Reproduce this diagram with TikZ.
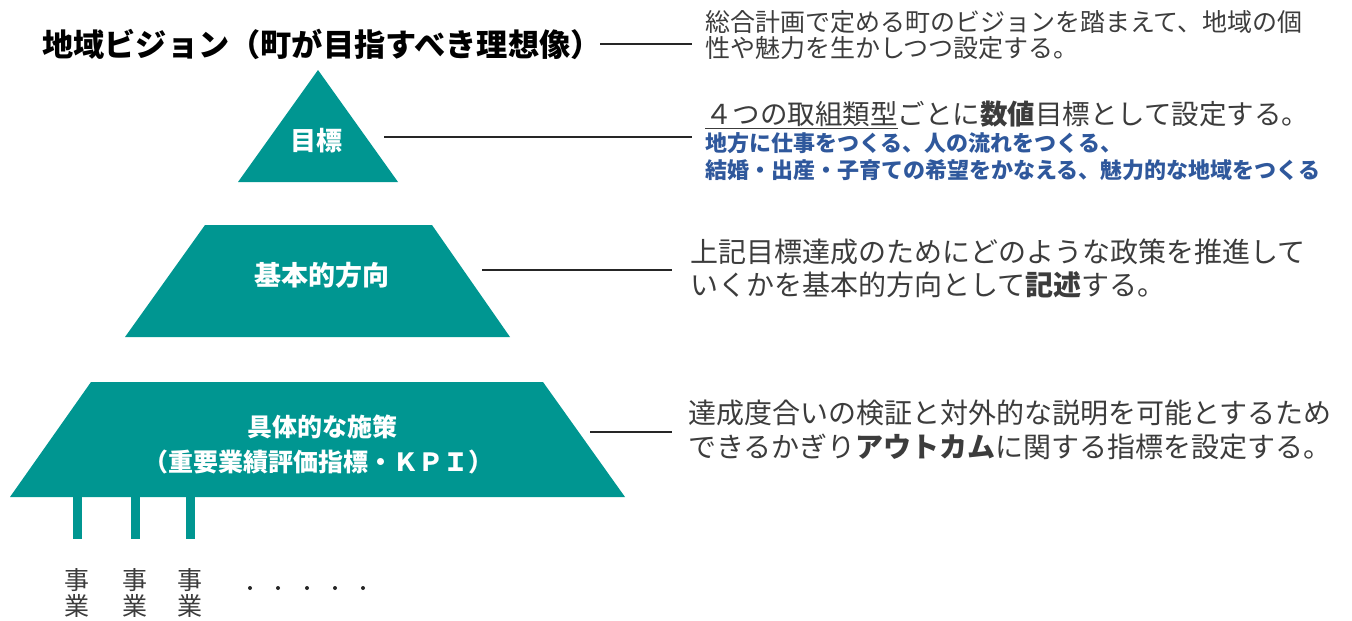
\documentclass[tikz,border=0pt]{standalone}
\usepackage{fontspec}
\setmainfont{Noto Sans CJK JP}
\definecolor{tealfill}{RGB}{0,150,145}
\definecolor{txtgray}{RGB}{60,60,60}
\definecolor{darkblue}{RGB}{47,88,156}
\tikzset{
  shapefill/.style={fill=tealfill, draw=none},
  inlabel/.style={text=white, inner sep=0, align=center},
  desc/.style={anchor=west, inner sep=0, text=txtgray},
  bluedesc/.style={anchor=west, inner sep=0, text=darkblue, font=\bfseries\fontsize{22}{26}\selectfont},
  leader/.style={draw=black!85, line width=1.1pt},
  legbar/.style={fill=tealfill, draw=none},
  jigyo/.style={inner sep=0, align=center, text=txtgray, font=\fontsize{25}{26.5}\selectfont},
  dotmark/.style={circle, fill=black!85, inner sep=0, minimum size=4pt},
}
\begin{document}
\begin{tikzpicture}[x=1pt,y=-1pt]
\useasboundingbox (0,0) rectangle (1352,621);

% title
\node[anchor=west, inner sep=0, font=\bfseries\fontsize{31.2}{36}\selectfont] (title) at (42,44) {地域ビジョン（町が目指すべき理想像）};
\coordinate (l0s) at (600,44);
\coordinate (l0e) at (692,44);
\draw[leader] (l0s) -- (l0e);

% right descriptions
\node[desc, font=\fontsize{25}{28}\selectfont] (t1a) at (705,22) {総合計画で定める町のビジョンを踏まえて、地域の個};
\node[desc, font=\fontsize{25}{28}\selectfont] (t1b) at (705,48) {性や魅力を生かしつつ設定する。};

\node[desc, font=\fontsize{27.5}{30}\selectfont] (t2) at (705,115) {\underline{４つの取組類型}ごとに{\bfseries 数値}目標として設定する。};
\node[bluedesc] (t2b) at (705,143) {地方に仕事をつくる、人の流れをつくる、};
\node[bluedesc] (t2c) at (705,170) {結婚・出産・子育ての希望をかなえる、魅力的な地域をつくる};

\node[desc, font=\fontsize{28}{32}\selectfont] (t3a) at (690,252) {上記目標達成のためにどのような政策を推進して};
\node[desc, font=\fontsize{28}{32}\selectfont] (t3b) at (690,285) {いくかを基本的方向として{\bfseries 記述}する。};

\node[desc, font=\fontsize{28}{32}\selectfont] (t4a) at (688,413) {達成度合いの検証と対外的な説明を可能とするため};
\node[desc, font=\fontsize{28}{32}\selectfont] (t4b) at (688,447) {できるかぎり{\bfseries アウトカム}に関する指標を設定する。};

% triangle
\fill[shapefill] (318,70) -- (398,182) -- (238,182) -- cycle;
\node[inlabel, font=\bfseries\fontsize{26}{30}\selectfont] (goal) at (316,141) {目標};
\coordinate (l1s) at (384,137);
\coordinate (l1e) at (692,137);
\draw[leader] (l1s) -- (l1e);

% trapezoid 2
\fill[shapefill] (205,225) -- (432,225) -- (510,337) -- (125,337) -- cycle;
\node[inlabel, font=\bfseries\fontsize{27}{30}\selectfont] (dir) at (322,275) {基本的方向};
\coordinate (l2s) at (482,270);
\coordinate (l2e) at (672,270);
\draw[leader] (l2s) -- (l2e);

% trapezoid 3
\fill[shapefill] (91,382) -- (543,382) -- (625,497) -- (10,497) -- cycle;
\node[inlabel, font=\bfseries\fontsize{25}{30}\selectfont] (mes1) at (322,427) {具体的な施策};
\node[inlabel, font=\bfseries\fontsize{25}{30}\selectfont] (mes2) at (318,462) {（重要業績評価指標・ＫＰＩ）};
\coordinate (l3s) at (590,432);
\coordinate (l3e) at (672,432);
\draw[leader] (l3s) -- (l3e);

% legs
\fill[legbar] (72.5,496) rectangle (81.5,539);
\fill[legbar] (130.5,496) rectangle (139.5,539);
\fill[legbar] (185.5,496) rectangle (194.5,539);

% projects
\node[jigyo] (j1) at (77,593) {事\\業};
\node[jigyo] (j2) at (135,593) {事\\業};
\node[jigyo] (j3) at (190,593) {事\\業};

\node[dotmark] (d1) at (250,588) {};
\node[dotmark] (d2) at (278,588) {};
\node[dotmark] (d3) at (307,588) {};
\node[dotmark] (d4) at (335,588) {};
\node[dotmark] (d5) at (363,588) {};
\end{tikzpicture}
\end{document}
